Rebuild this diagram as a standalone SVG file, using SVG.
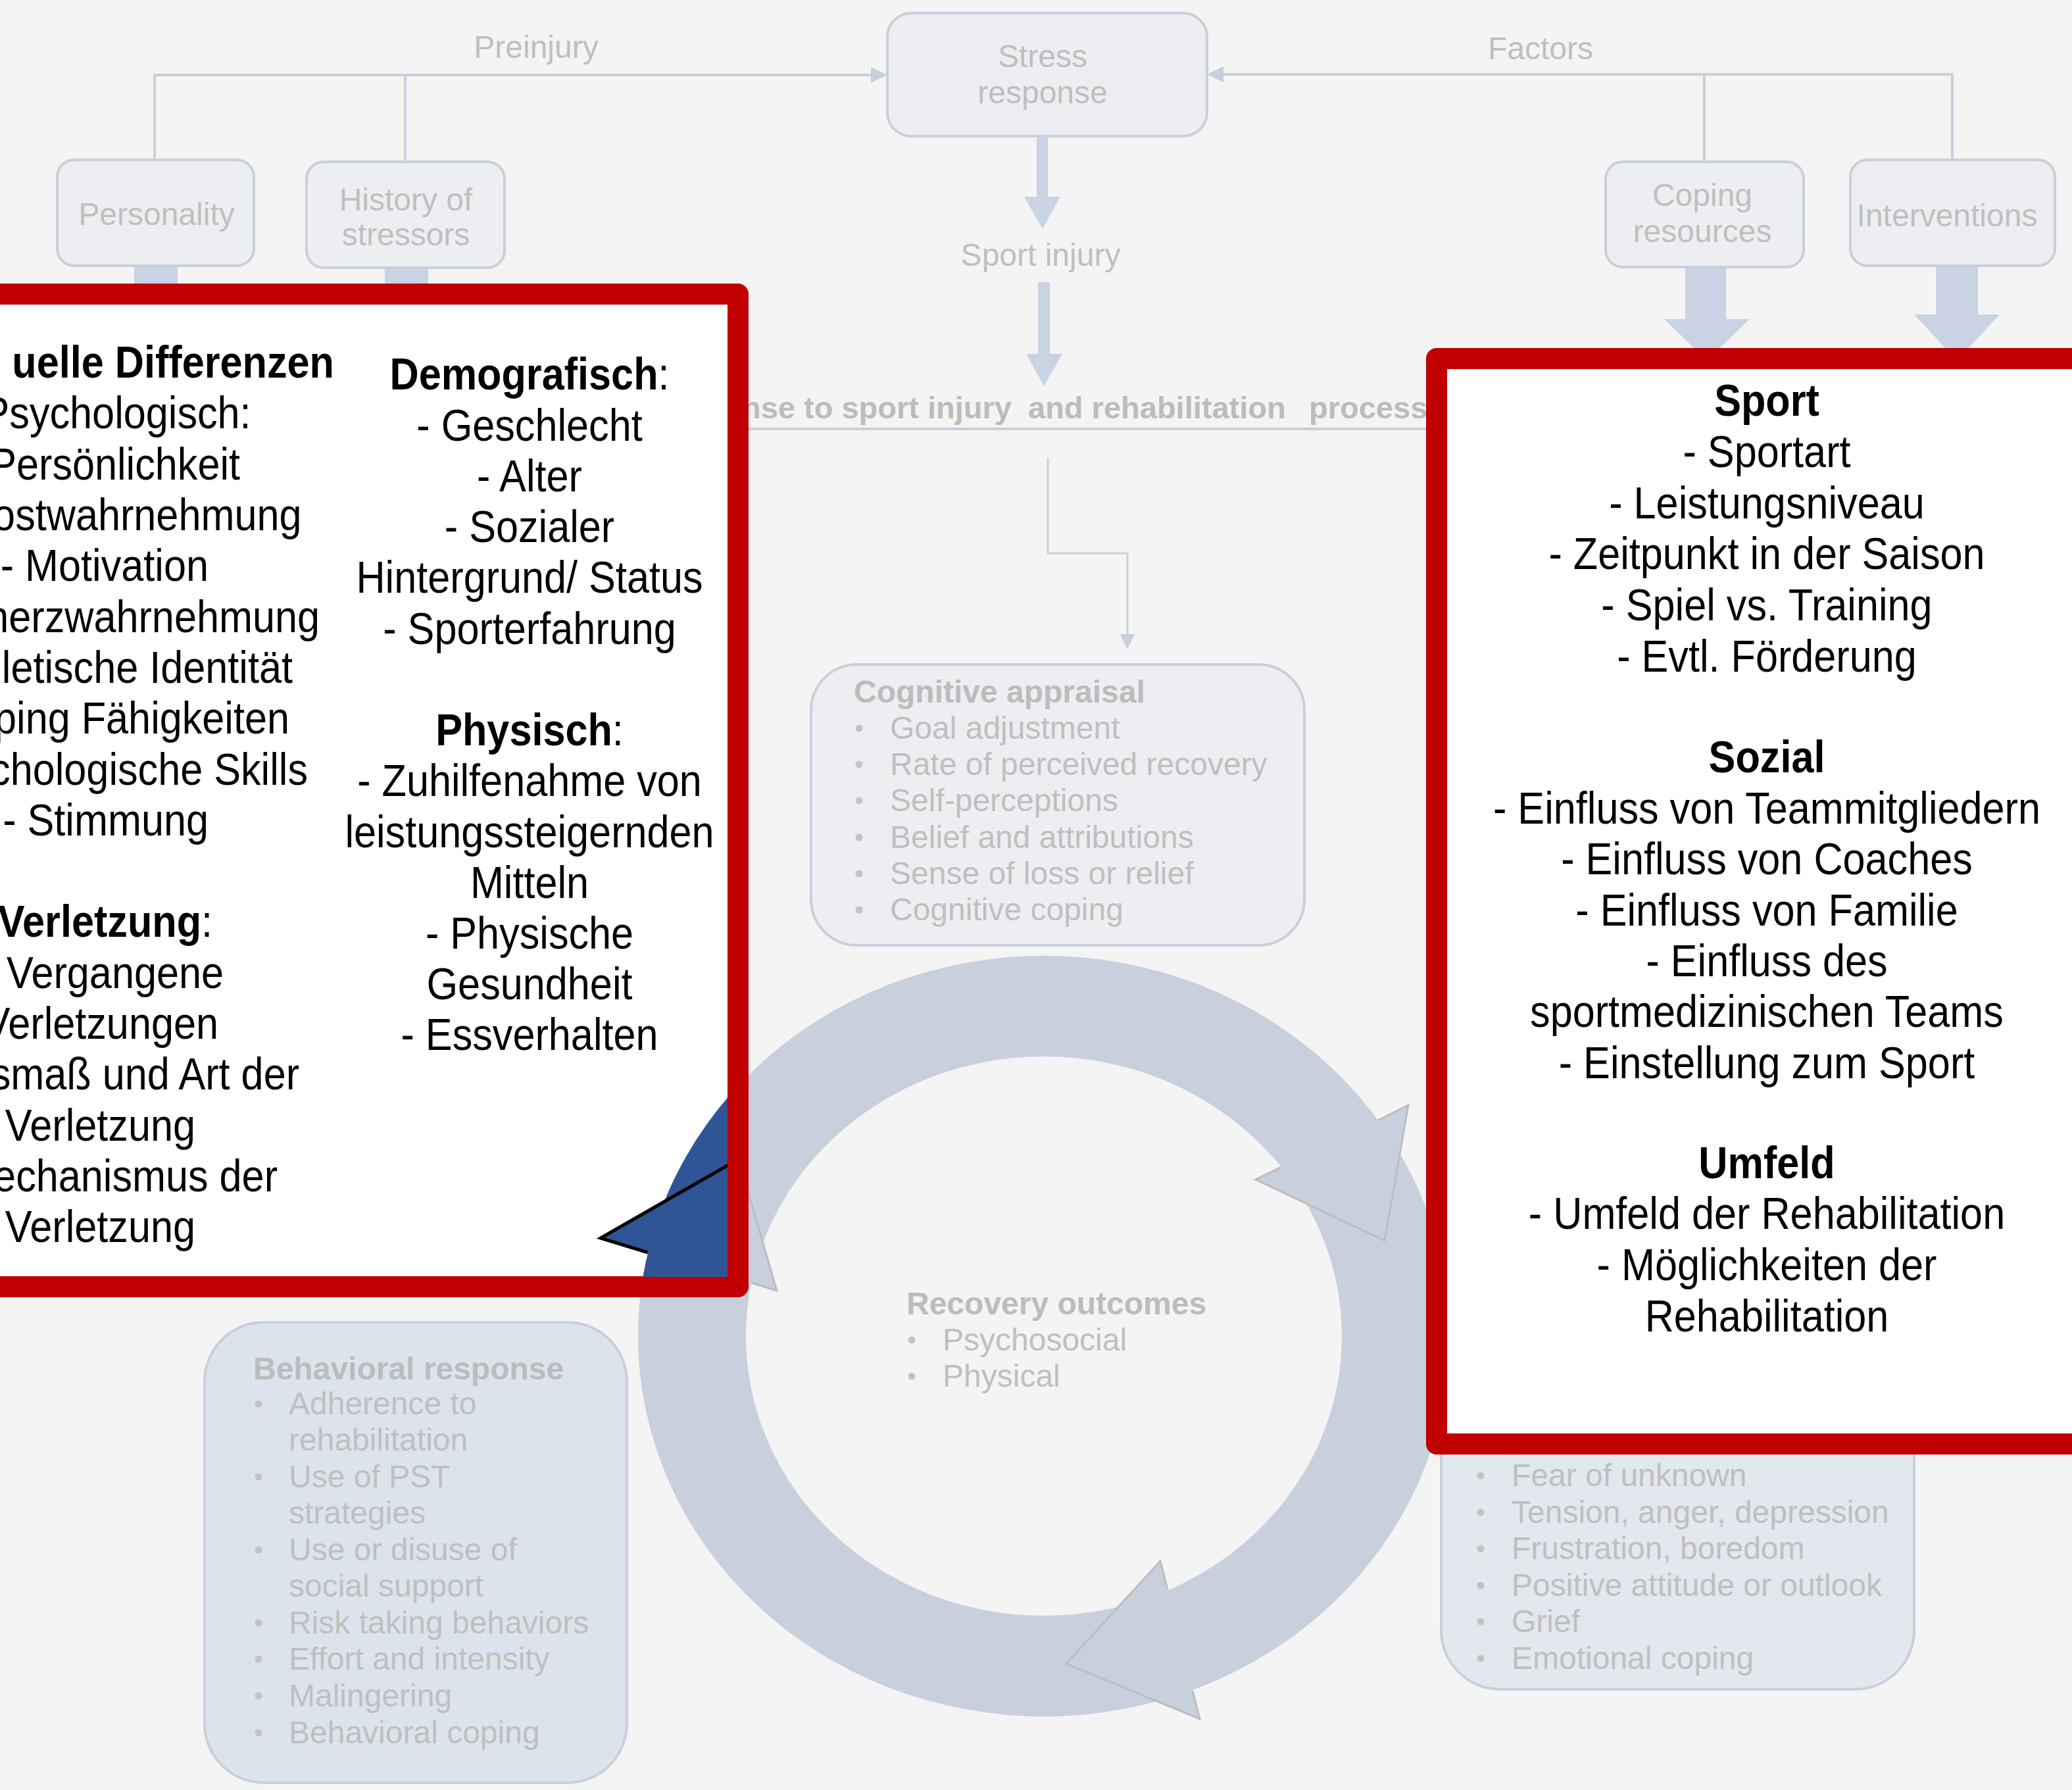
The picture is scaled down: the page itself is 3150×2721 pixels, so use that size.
<svg xmlns="http://www.w3.org/2000/svg" width="3150" height="2721" viewBox="0 0 3150 2721">
<defs>
<style>
.g{font-family:'Liberation Sans',Arial,sans-serif;font-size:48px;fill:#bfbfbf}
.gb{font-weight:bold;fill:#bcbcbc}
.mid{text-anchor:middle}
.bk{font-family:'Liberation Sans',Arial,sans-serif;font-size:68px;fill:#000}
.b{font-weight:bold}
.box{fill:#edeef2;stroke:#c9d0dc;stroke-width:4}
.ln{stroke:#c7cfdc;stroke-width:4;fill:none}
.thin{stroke:#c7cfdc;stroke-width:3;fill:none}
.thick{fill:#c9d3e3}
.bul{fill:#c3c3c3}
.ring{fill:#c8d0dd}
.ah{stroke:#bdbdbd;stroke-width:3;fill:none;stroke-linejoin:miter}
.red{fill:#fff;stroke:#c00000;stroke-width:32;stroke-linejoin:round}
</style>
<clipPath id="lclip"><rect x="-60" y="463" width="1166" height="1478"/></clipPath>
</defs>
<rect x="0" y="0" width="3150" height="2721" fill="#f4f4f4"/>

<g id="connectors">
<path class="ln" d="M235,114 H1326"/>
<path class="ln" d="M235,112 V245 M616,112 V247"/>
<polygon points="1324,102 1349,114 1324,126" fill="#c7cfdc"/>
<path class="ln" d="M1858,113 H2968"/>
<path class="ln" d="M2591,111 V246 M2968,111 V243"/>
<polygon points="1860,101 1835,113 1860,125" fill="#c7cfdc"/>
<rect class="thick" x="1576" y="207" width="17" height="93"/>
<polygon class="thick" points="1557,299 1612,299 1585,348"/>
<rect class="thick" x="1578" y="429" width="18" height="110"/>
<polygon class="thick" points="1560,538 1615,538 1587,587"/>
<rect class="thick" x="204" y="404" width="66" height="40"/>
<rect class="thick" x="585" y="407" width="66" height="40"/>
<rect class="thick" x="2562" y="406" width="62" height="80"/>
<polygon class="thick" points="2530,485 2660,485 2595,548"/>
<rect class="thick" x="2943" y="404" width="64" height="75"/>
<polygon class="thick" points="2910,478 3040,478 2975,548"/>
<path class="ln" d="M1100,652 H2200"/>
<path class="thin" d="M1593,696 V841 H1714 V966"/>
<polygon points="1703,964 1725,964 1714,987" fill="#c7cfdc"/>
</g>

<g id="cycle">
<path class="ring" fill-rule="evenodd" d="M970,2031 a617,578 0 1 0 1234,0 a617,578 0 1 0 -1234,0 Z M1134,2031 a453,425 0 1 0 906,0 a453,425 0 1 0 -906,0 Z"/>
<polygon class="ring" points="2141,1680 2105,1886 1909,1793"/>
<polyline class="ah" points="2095,1703 2141,1680 2105,1886 1909,1793 1948,1774"/>
<polygon class="ring" points="1764,2373 1621,2529 1824,2613"/>
<polyline class="ah" points="1775,2416 1764,2373 1621,2529 1824,2613 1813,2570"/>
<polygon class="ring" points="1123,1762 913,1882 1181,1962"/>
<polyline class="ah" points="985,1904 913,1882 1123,1762 1181,1962 1142,1950"/>
</g>

<g class="g">
<text id="preinjury" class="mid" x="815" y="88">Preinjury</text>
<text id="factors" class="mid" x="2342" y="90">Factors</text>
<text id="sportinjury" class="mid" x="1582" y="404">Sport injury</text>
<text id="header" class="gb" font-size="47"><tspan x="1128" y="636">nse to sport injury</tspan><tspan x="1563" y="636">and rehabilitation</tspan><tspan x="1990" y="636">process</tspan></text>
</g>

<g id="personality">
<rect class="box" x="87" y="243" width="299" height="161" rx="26"/>
<text class="g mid" x="238" y="342">Personality</text>
</g>
<g id="history">
<rect class="box" x="466" y="246" width="301" height="161" rx="26"/>
<text class="g mid" x="617" y="320">History of</text>
<text class="g mid" x="617" y="373">stressors</text>
</g>
<g id="stress">
<rect class="box" x="1349" y="20" width="486" height="187" rx="36"/>
<text class="g mid" x="1585" y="102">Stress</text>
<text class="g mid" x="1585" y="157">response</text>
</g>
<g id="coping">
<rect class="box" x="2441" y="246" width="301" height="160" rx="26"/>
<text class="g mid" x="2588" y="313">Coping</text>
<text class="g mid" x="2588" y="368">resources</text>
</g>
<g id="interventions">
<rect class="box" x="2813" y="243" width="311" height="161" rx="26"/>
<text class="g mid" x="2960" y="344">Interventions</text>
</g>

<g id="cognitive">
<rect class="box" x="1233" y="1010" width="750" height="427" rx="70"/>
<g class="g">
<text class="gb" x="1298" y="1068">Cognitive appraisal</text>
<text x="1353" y="1123">Goal adjustment</text>
<text x="1353" y="1178">Rate of perceived recovery</text>
<text x="1353" y="1233">Self-perceptions</text>
<text x="1353" y="1289">Belief and attributions</text>
<text x="1353" y="1344">Sense of loss or relief</text>
<text x="1353" y="1399">Cognitive coping</text>
</g>
<g class="bul">
<circle cx="1306" cy="1107" r="5.5"/><circle cx="1306" cy="1162" r="5.5"/><circle cx="1306" cy="1217" r="5.5"/>
<circle cx="1306" cy="1273" r="5.5"/><circle cx="1306" cy="1328" r="5.5"/><circle cx="1306" cy="1383" r="5.5"/>
</g>
</g>

<g id="recovery">
<g class="g">
<text class="gb" x="1378" y="1998">Recovery outcomes</text>
<text x="1433" y="2053">Psychosocial</text>
<text x="1433" y="2108">Physical</text>
</g>
<g class="bul"><circle cx="1386" cy="2037" r="5.5"/><circle cx="1386" cy="2092" r="5.5"/></g>
</g>

<g id="behavioral">
<rect x="311" y="2010" width="642" height="700" rx="90" fill="#dde3ec" stroke="#c9d0dc" stroke-width="4"/>
<g class="g">
<text class="gb" x="385" y="2097">Behavioral response</text>
<text x="439" y="2150">Adherence to</text>
<text x="439" y="2205">rehabilitation</text>
<text x="439" y="2261">Use of PST</text>
<text x="439" y="2316">strategies</text>
<text x="439" y="2372">Use or disuse of</text>
<text x="439" y="2427">social support</text>
<text x="439" y="2483">Risk taking behaviors</text>
<text x="439" y="2538">Effort and intensity</text>
<text x="439" y="2594">Malingering</text>
<text x="439" y="2650">Behavioral coping</text>
</g>
<g class="bul">
<circle cx="393" cy="2134" r="5.5"/><circle cx="393" cy="2245" r="5.5"/><circle cx="393" cy="2356" r="5.5"/>
<circle cx="393" cy="2467" r="5.5"/><circle cx="393" cy="2522" r="5.5"/><circle cx="393" cy="2578" r="5.5"/><circle cx="393" cy="2634" r="5.5"/>
</g>
</g>

<g id="emotional">
<rect x="2191" y="1950" width="719" height="618" rx="90" fill="#e3e7ee" stroke="#c9d0dc" stroke-width="4"/>
<g class="g">
<text x="2298" y="2259">Fear of unknown</text>
<text x="2298" y="2315">Tension, anger, depression</text>
<text x="2298" y="2370">Frustration, boredom</text>
<text x="2298" y="2426">Positive attitude or outlook</text>
<text x="2298" y="2481">Grief</text>
<text x="2298" y="2537">Emotional coping</text>
</g>
<g class="bul">
<circle cx="2251" cy="2243" r="5.5"/><circle cx="2251" cy="2299" r="5.5"/><circle cx="2251" cy="2354" r="5.5"/>
<circle cx="2251" cy="2410" r="5.5"/><circle cx="2251" cy="2465" r="5.5"/><circle cx="2251" cy="2521" r="5.5"/>
</g>
</g>

<g id="left-overlay">
<rect class="red" x="-60" y="447" width="1182" height="1509"/>
<g clip-path="url(#lclip)">
<path fill="#2f5597" fill-rule="evenodd" d="M970,2031 a617,578 0 1 0 1234,0 a617,578 0 1 0 -1234,0 Z M1134,2031 a453,425 0 1 0 906,0 a453,425 0 1 0 -906,0 Z"/>
<polygon fill="#2f5597" points="1123,1762 913,1882 1181,1962"/>
<polyline points="985,1904 913,1882 1123,1762" fill="none" stroke="#000" stroke-width="5" stroke-linejoin="miter"/>
</g>
<g class="bk" transform="scale(0.9 1)" text-anchor="end">
<text class="b" x="564.4" y="574">uelle Differenzen</text>
<text x="424" y="651">Psychologisch:</text>
<text x="405.6" y="729">Persönlichkeit</text>
<text x="509.4" y="806">ostwahrnehmung</text>
<text x="352.2" y="883">- Motivation</text>
<text x="540" y="961">herzwahrnehmung</text>
<text x="494.4" y="1038">letische Identität</text>
<text x="488.9" y="1115">ping Fähigkeiten</text>
<text x="520" y="1193">chologische Skills</text>
<text x="352.2" y="1270">- Stimmung</text>
<text x="358.9" y="1424"><tspan class="b">Verletzung</tspan>:</text>
<text x="377.8" y="1502">Vergangene</text>
<text x="368.9" y="1579">Verletzungen</text>
<text x="505.6" y="1656">smaß und Art der</text>
<text x="330" y="1734">Verletzung</text>
<text x="468.9" y="1811">echanismus der</text>
<text x="330" y="1888">Verletzung</text>
</g>
<g class="bk" transform="translate(805 0) scale(0.9 1)" text-anchor="middle">
<text x="0" y="592"><tspan class="b">Demografisch</tspan>:</text>
<text x="0" y="670">- Geschlecht</text>
<text x="0" y="747">- Alter</text>
<text x="0" y="824">- Sozialer</text>
<text x="0" y="901">Hintergrund/ Status</text>
<text x="0" y="979">- Sporterfahrung</text>
<text x="0" y="1133"><tspan class="b">Physisch</tspan>:</text>
<text x="0" y="1210">- Zuhilfenahme von</text>
<text x="0" y="1288">leistungssteigernden</text>
<text x="0" y="1365">Mitteln</text>
<text x="0" y="1442">- Physische</text>
<text x="0" y="1519">Gesundheit</text>
<text x="0" y="1596">- Essverhalten</text>
</g>
</g>

<g id="right-overlay">
<rect class="red" x="2184" y="545" width="1100" height="1650"/>
<g class="bk" transform="translate(2686 0) scale(0.9 1)" text-anchor="middle">
<text class="b" x="0" y="632">Sport</text>
<text x="0" y="710">- Sportart</text>
<text x="0" y="788">- Leistungsniveau</text>
<text x="0" y="865">- Zeitpunkt in der Saison</text>
<text x="0" y="943">- Spiel vs. Training</text>
<text x="0" y="1021">- Evtl. Förderung</text>
<text class="b" x="0" y="1174">Sozial</text>
<text x="0" y="1252">- Einfluss von Teammitgliedern</text>
<text x="0" y="1329">- Einfluss von Coaches</text>
<text x="0" y="1407">- Einfluss von Familie</text>
<text x="0" y="1484">- Einfluss des</text>
<text x="0" y="1561">sportmedizinischen Teams</text>
<text x="0" y="1639">- Einstellung zum Sport</text>
<text class="b" x="0" y="1791">Umfeld</text>
<text x="0" y="1868">- Umfeld der Rehabilitation</text>
<text x="0" y="1946">- Möglichkeiten der</text>
<text x="0" y="2024">Rehabilitation</text>
</g>
</g>
</svg>
